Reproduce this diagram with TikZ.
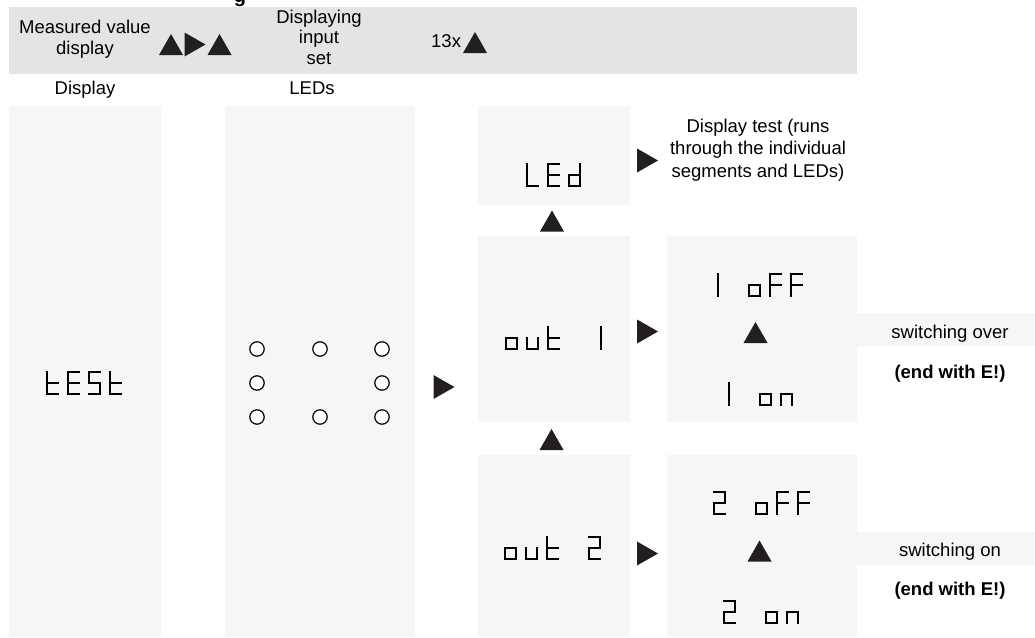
\documentclass[tikz,border=0pt]{standalone}
\usepackage{fontspec}
\setmainfont{Liberation Sans}
\definecolor{bandgray}{HTML}{E4E4E4}
\definecolor{boxgray}{HTML}{F6F6F6}
\definecolor{triblack}{HTML}{231F20}
\tikzset{
  lbl/.style={font=\fontsize{18.5}{20.5}\selectfont, inner sep=0pt, text=black},
  lblwide/.style={font=\fontsize{18.5}{22.5}\selectfont, inner sep=0pt, text=black},
  lblbold/.style={font=\fontsize{18.5}{20.5}\selectfont\bfseries, inner sep=0pt, text=black},
  box/.style={fill=boxgray},
  band/.style={fill=bandgray},
  tri/.style={fill=triblack},
  ledring/.style={draw=black, line width=1.2pt, fill=white},
  segline/.style={draw=black, line width=1.9pt, line cap=rect, line join=miter},
  ch t/.style={insert path={(1,1)--(1,23)--(12,23) (1,12)--(12,12)}},
  ch E/.style={insert path={(12,1)--(1,1)--(1,23)--(12,23) (1,12)--(12,12)}},
  ch S/.style={insert path={(12,1)--(1,1)--(1,12)--(12,12)--(12,23)--(1,23)}},
  ch L/.style={insert path={(1,1)--(1,23)--(12,23)}},
  ch d/.style={insert path={(12,1)--(12,23)--(1,23)--(1,12)--(12,12)}},
  ch o/.style={insert path={(1,12)--(12,12)--(12,23)--(1,23)--cycle}},
  ch u/.style={insert path={(1,12)--(1,23)--(12,23)--(12,12)}},
  ch n/.style={insert path={(1,23)--(1,12)--(12,12)--(12,23)}},
  ch 1/.style={insert path={(12,1)--(12,23)}},
  ch 2/.style={insert path={(1,1)--(12,1)--(12,12)--(1,12)--(1,23)--(12,23)}},
  ch F/.style={insert path={(12,1)--(1,1)--(1,23) (1,12)--(12,12)}},
  ch -/.style={insert path={}},
}
% seven-segment string: x of first cell, y of top, list of characters
\newcommand\ssd[3]{\foreach \c [count=\i from 0] in {#3}{\path[segline, shift={(#1+21*\i,#2)}] [ch \c];}}
\newcommand\uptri[2]{\fill[tri] (#1-12,#2+10.5) -- (#1+12,#2+10.5) -- (#1,#2-10.5) -- cycle;}
\newcommand\rtri[2]{\fill[tri] (#1-10.5,#2-12) -- (#1+10.5,#2) -- (#1-10.5,#2+12) -- cycle;}
\begin{document}
\begin{tikzpicture}[x=1pt, y=-1pt]
\useasboundingbox (0,0) rectangle (1035,637);
\fill[white] (0,0) rectangle (1035,637);
% cut-off title fragment
\begin{scope}
  \clip (0,0) rectangle (1035,637);
  \node[lblbold, font=\fontsize{20}{22}\selectfont\bfseries, anchor=base] (title) at (240,2) {g};
\end{scope}
% header band
\fill[band] (9,7) rectangle (857,74);
\node[lbl, anchor=base, align=center] (mvd) at (85,54) {Measured value\\display};
\uptri{171}{44.5}
\rtri{195}{44.5}
\uptri{219.5}{44.5}
\node[lbl, anchor=base, align=center] (dis) at (319,64) {Displaying\\input\\set};
\node[lbl, anchor=base west] (times) at (431,47) {13x};
\uptri{475}{42.5}
% column heads
\node[lbl, anchor=base] (hdisp) at (85,94) {Display};
\node[lbl, anchor=base] (hled) at (312,94) {LEDs};
% boxes
\fill[box] (9,106) rectangle (161,637);
\fill[box] (225,106) rectangle (415,637);
\fill[box] (478,106) rectangle (630,205);
\fill[box] (478,236) rectangle (630,422);
\fill[box] (478,455) rectangle (630,637);
\fill[box] (667,236) rectangle (857,422);
\fill[box] (667,455) rectangle (857,637);
\fill[box] (857,313) rectangle (1035,346);
\fill[box] (857,532) rectangle (1035,565);
% display contents
\ssd{46}{371}{t,E,S,t}
\foreach \lx in {257,320,382}{
  \draw[ledring] (\lx,349) circle (7.2);
  \draw[ledring] (\lx,417) circle (7.2);
}
\draw[ledring] (257,383) circle (7.2);
\draw[ledring] (382,383) circle (7.2);
\rtri{444}{387}
% menu column
\ssd{526}{163}{L,E,d}
\ssd{505}{326}{o,u,t,-,1}
\ssd{504}{536}{o,u,t,-,2}
\uptri{552}{221}
\uptri{551.5}{439.5}
\rtri{647.5}{160.5}
\rtri{647.5}{331.5}
\rtri{647.5}{553.5}
\node[lblwide, anchor=base, align=center] (dtest) at (758,177) {Display test (runs\\through the individual\\segments and LEDs)};
% output 1 settings
\ssd{706}{273}{1,-,o,F,F}
\uptri{755.5}{332.5}
\ssd{717}{382}{1,-,o,n}
\node[lbl, anchor=base] (sw1) at (950,338) {switching over};
\node[lblbold, anchor=base] (end1) at (950,378) {(end with E!)};
% output 2 settings
\ssd{713}{491}{2,-,o,F,F}
\uptri{759.5}{551}
\ssd{723}{600}{2,-,o,n}
\node[lbl, anchor=base] (sw2) at (950,556) {switching on};
\node[lblbold, anchor=base] (end2) at (950,595) {(end with E!)};
\end{tikzpicture}
\end{document}
